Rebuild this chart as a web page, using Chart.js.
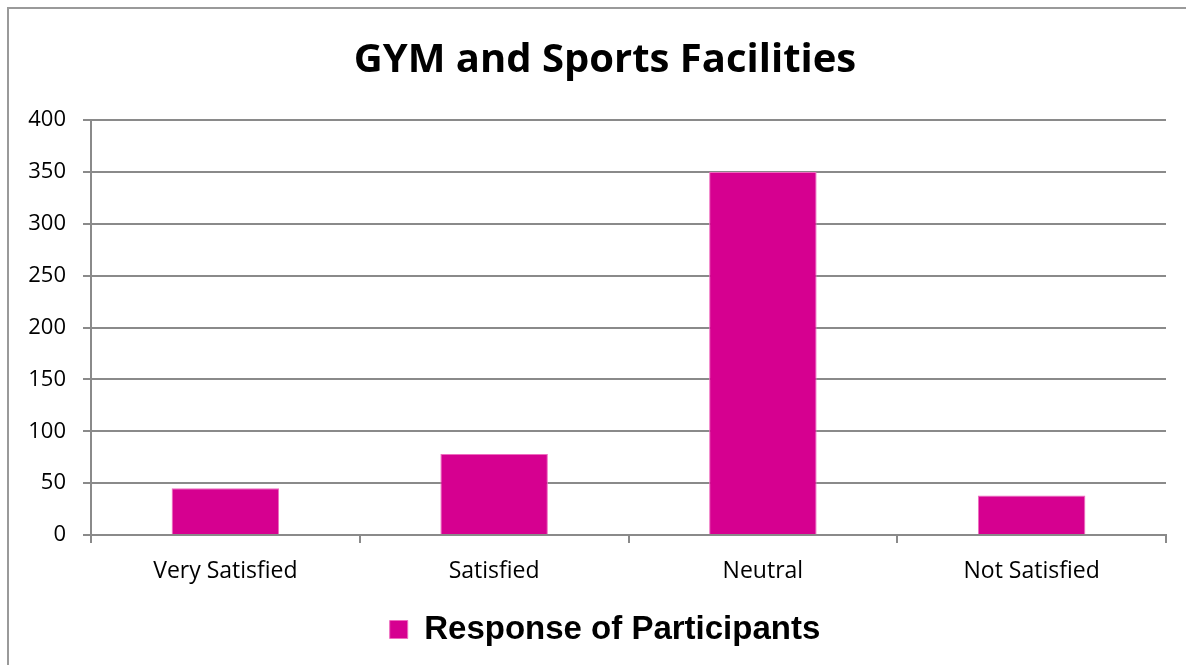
<!DOCTYPE html>
<html>
<head>
<meta charset="utf-8">
<script src="https://cdn.jsdelivr.net/npm/chart.js@4"></script>
<style>
  html, body { margin: 0; padding: 0; background: #fff; overflow: hidden; }
  #frame {
    position: absolute; left: 7px; top: 7px; width: 1200px; height: 700px;
    border-left: 2px solid #9a9a9a; border-top: 2px solid #9a9a9a;
  }
  #wrap { position: absolute; left: 0; top: 0; width: 1186px; height: 665px; }
</style>
</head>
<body>
<div id="frame"></div>
<div id="wrap"><canvas id="gymChart"></canvas></div>
<script>
const categories = ["Very Satisfied", "Satisfied", "Neutral", "Not Satisfied"];
const responses = [45, 78, 350, 38];
const seriesName = "Response of Participants";
const chartTitle = "GYM and Sports Facilities";

const gridGray = "#8a8a8a";

const ctx = document.getElementById("gymChart").getContext("2d");
new Chart(ctx, {
    type: "bar",
    data: {
        labels: categories,
        datasets: [
            {
                label: seriesName,
                data: responses,
                backgroundColor: "#d60090",
                borderColor: "#ee6cbf",
                borderWidth: 1,
                barPercentage: 0.4,
                categoryPercentage: 1.0,
            },
        ],
    },
    options: {
        responsive: true,
        maintainAspectRatio: false,
        animation: false,
        // uneven padding moves title/legend centre right; empty right axis keeps plot edge at 1166
        layout: { padding: { left: 24, right: 0, top: 0, bottom: 9 } },
        plugins: {
            title: {
                display: true,
                text: chartTitle,
                color: "#000",
                font: { family: "'Open Sans', sans-serif", size: 40, weight: "bold" },
                padding: { top: 37, bottom: 35 },
            },
            legend: {
                display: true,
                position: "bottom",
                labels: {
                    color: "#000",
                    font: { family: "'Liberation Sans', Arial, sans-serif", size: 33, weight: "bold" },
                    boxWidth: 18,
                    boxHeight: 18,
                    padding: 10,
                },
            },
            tooltip: { enabled: false },
        },
        scales: {
            x: {
                afterFit: (scale) => { scale.height = 68; },
                grid: {
                    offset: true,
                    drawOnChartArea: false,
                    drawTicks: true,
                    tickLength: 8,
                    color: gridGray,
                    lineWidth: 2,
                },
                border: { color: gridGray, width: 2 },
                ticks: {
                    color: "#000",
                    padding: 15,
                    font: { family: "'Open Sans', sans-serif", size: 23 },
                },
            },
            y: {
                min: 0,
                max: 400,
                afterFit: (scale) => { scale.width = 67; },
                grid: {
                    color: gridGray,
                    lineWidth: 2,
                    tickLength: 8,
                },
                border: { color: gridGray, width: 2 },
                ticks: {
                    stepSize: 50,
                    color: "#000",
                    padding: 17,
                    font: { family: "'Open Sans', sans-serif", size: 22 },
                },
            },
            spacer: {
                type: "linear",
                position: "right",
                afterFit: (scale) => { scale.width = 20; },
                grid: { display: false },
                border: { display: false },
                ticks: { display: false },
            },
        },
    },
});
</script>
</body>
</html>
